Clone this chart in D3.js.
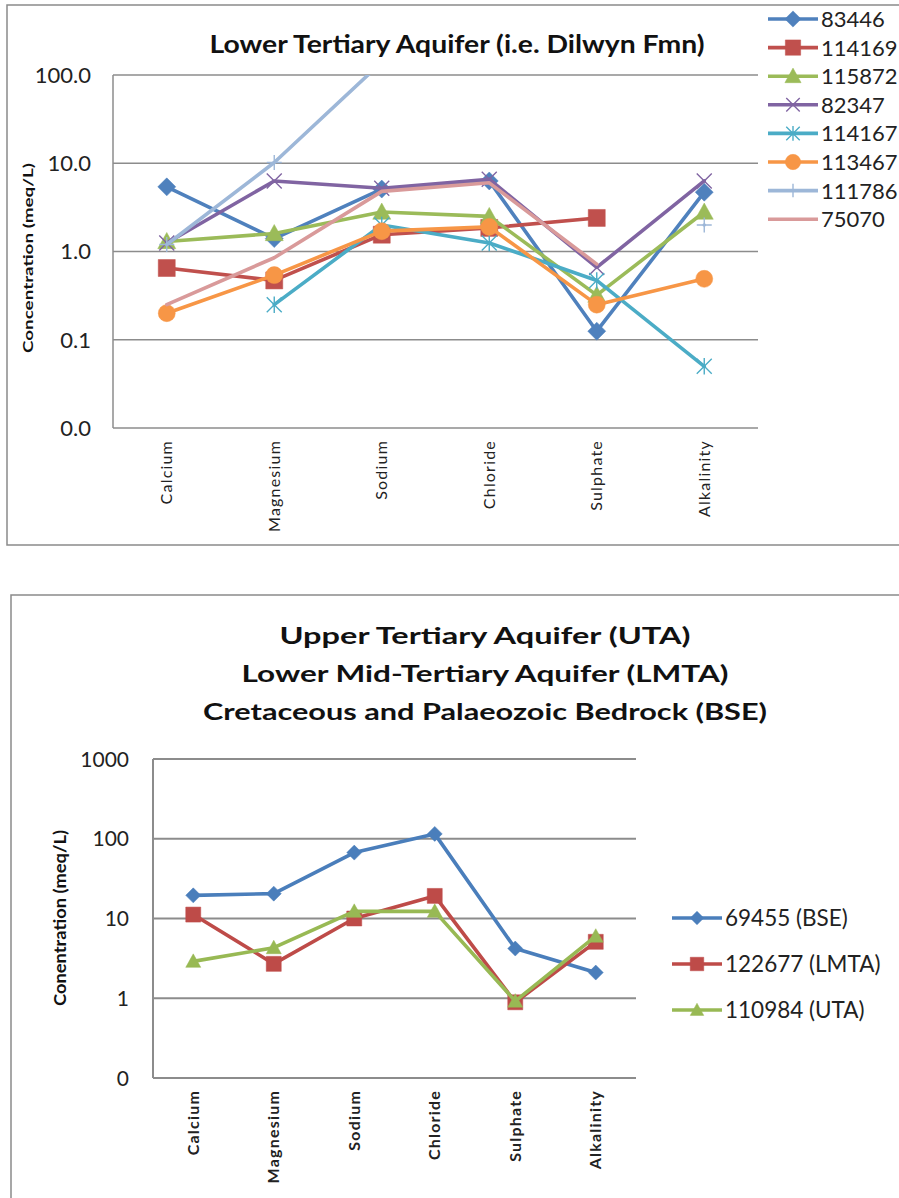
<!DOCTYPE html>
<html><head><meta charset="utf-8">
<script src="https://cdn.jsdelivr.net/npm/d3@7"></script>
<style>body{margin:0;background:#fff}svg{display:block}</style>
</head><body>
<svg id="c" width="899" height="1198"></svg>
<script>
// ---------- DATA ----------
const categories = ["Calcium","Magnesium","Sodium","Chloride","Sulphate","Alkalinity"];

// Top chart: Lower Tertiary Aquifer (i.e. Dilwyn Fmn)
const topTitle = ["Lower Tertiary Aquifer (i.e. Dilwyn Fmn)"];
const topSeriesNames = ["83446","114169","115872","82347","114167","113467","111786","75070"];
const v83446  = [5.4, 1.4, 5.1, 6.3, 0.125, 4.7];
const v114169 = [0.65, 0.47, 1.55, 1.85, 2.4, null];
const v115872 = [1.3, 1.6, 2.8, 2.5, 0.32, 2.8];
const v82347  = [1.25, 6.3, 5.2, 6.6, 0.66, 6.3];
const v114167 = [null, 0.25, 2.0, 1.25, 0.47, 0.05];
const v113467 = [0.2, 0.54, 1.7, 1.9, 0.25, 0.49];
const v111786 = [1.2, 10.2, 140, null, null, 2.0];
const v75070  = [0.25, 0.85, 4.8, 6.0, 0.72, null];
const topTickValues = [0.01, 0.1, 1, 10, 100];
const topTickLabels = ["0.0", "0.1", "1.0", "10.0", "100.0"];
const topYTitle = "Concentration (meq/L)";

// Bottom chart: UTA / LMTA / BSE
const botTitle = ["Upper Tertiary Aquifer (UTA)", "Lower Mid-Tertiary Aquifer (LMTA)", "Cretaceous and Palaeozoic Bedrock (BSE)"];
const botSeriesNames = ["69455 (BSE)", "122677 (LMTA)", "110984 (UTA)"];
const v69455  = [19.5, 20.5, 67, 115, 4.2, 2.1];
const v122677 = [11.2, 2.7, 10, 19.2, 0.89, 5.1];
const v110984 = [2.9, 4.3, 12.3, 12.3, 0.92, 6.0];
const botTickValues = [0.1, 1, 10, 100, 1000];
const botTickLabels = ["0", "1", "10", "100", "1000"];
const botYTitle = "Conentration (meq/L)";

// ---------- STYLES ----------
const topStyles = [
  {color:"#4F81BD", marker:"diamond"},
  {color:"#C0504D", marker:"square"},
  {color:"#9BBB59", marker:"triangle"},
  {color:"#8064A2", marker:"x"},
  {color:"#4BACC6", marker:"star"},
  {color:"#F79646", marker:"circle"},
  {color:"#9DB7D8", marker:"plus"},
  {color:"#D99A9A", marker:"none"}
];
const botStyles = [
  {color:"#4A7EBB", marker:"diamond"},
  {color:"#BE4B48", marker:"square"},
  {color:"#98B954", marker:"triangle"}
];

const FONT = "Lato, 'Open Sans', sans-serif";
const svg = d3.select("#c");

function markerPath(type, s){
  switch(type){
    case "diamond": return `M0,${-s}L${s},0L0,${s}L${-s},0Z`;
    case "square": return `M${-s},${-s}h${2*s}v${2*s}h${-2*s}Z`;
    case "triangle": return `M0,${-s}L${s},${s*0.8}L${-s},${s*0.8}Z`;
    case "circle": return `M${-s},0a${s},${s} 0 1,0 ${2*s},0a${s},${s} 0 1,0 ${-2*s},0Z`;
    case "x": return `M${-s},${-s}L${s},${s}M${-s},${s}L${s},${-s}`;
    case "star": return `M${-s},${-s}L${s},${s}M${-s},${s}L${s},${-s}M0,${-s*1.1}L0,${s*1.1}`;
    case "plus": return `M${-s},0L${s},0M0,${-s}L0,${s}`;
  }
  return "";
}
const filled = t => ["diamond","square","triangle","circle"].includes(t);

function drawMarker(g, type, color, x, y, s){
  if(type === "none") return;
  g.append("path").attr("d", markerPath(type, s))
    .attr("transform", `translate(${x},${y})`)
    .attr("fill", filled(type) ? color : "none")
    .attr("stroke", color)
    .attr("stroke-width", filled(type) ? 0.5 : 1.4);
}

function drawChart(cfg){
  const g = svg.append("g");
  g.append("rect").attr("x", cfg.frame[0]).attr("y", cfg.frame[1])
    .attr("width", cfg.frame[2]).attr("height", cfg.frame[3])
    .attr("fill", "#fff").attr("stroke", "#8a8a8a").attr("stroke-width", 1.5);

  const x = d3.scaleBand().domain(categories).range([cfg.left, cfg.right]);
  const y = d3.scaleLog().domain([cfg.ticks[0], cfg.ticks[cfg.ticks.length-1]]).range([cfg.bottom, cfg.top]);
  const cx = c => x(c) + x.bandwidth()/2;

  g.selectAll(".grid").data(cfg.ticks).join("line")
    .attr("x1", cfg.left).attr("x2", cfg.right)
    .attr("y1", d => y(d)).attr("y2", d => y(d))
    .attr("stroke", cfg.gridColor).attr("stroke-width", cfg.gridWidth);
  g.append("line").attr("x1", cfg.left).attr("x2", cfg.left)
    .attr("y1", cfg.top).attr("y2", cfg.bottom)
    .attr("stroke", cfg.gridColor).attr("stroke-width", cfg.gridWidth);

  g.selectAll(".tl").data(cfg.ticks).join("text")
    .attr("x", cfg.tickX).attr("y", d => y(d)).attr("dy", "0.36em")
    .attr("text-anchor", "end")
    .attr("font-family", FONT).attr("font-size", cfg.tickSize).attr("fill", "#222")
    .text((d,i) => cfg.tickLabels[i]);

  g.selectAll(".cl").data(categories).join("text")
    .attr("transform", d => `translate(${cx(d)},${cfg.catY}) rotate(-90)`)
    .attr("dy", "0.35em").attr("text-anchor", "end")
    .attr("font-family", FONT).attr("font-size", cfg.catSize)
    .attr("font-weight", cfg.catWeight).attr("letter-spacing", cfg.catSpacing).attr("fill", "#222")
    .text(d => d);

  g.append("text")
    .attr("transform", `translate(${cfg.yTitleX},${cfg.yTitleY}) rotate(-90)`)
    .attr("text-anchor", "middle").attr("dy", "0.35em")
    .attr("font-family", FONT).attr("font-size", cfg.yTitleSize).attr("font-weight", 700)
    .attr("textLength", cfg.yTitleLen).attr("lengthAdjust", "spacingAndGlyphs")
    .attr("fill", "#111").text(cfg.yTitle);

  cfg.title.forEach((t, i) => {
    g.append("text").attr("x", cfg.titleX).attr("y", cfg.titleY + i*cfg.titleStep)
      .attr("text-anchor", "middle")
      .attr("font-family", FONT).attr("font-size", cfg.titleSize).attr("font-weight", 700)
      .attr("textLength", cfg.titleLens[i]).attr("lengthAdjust", "spacingAndGlyphs")
      .attr("fill", "#111").text(t);
  });

  const clipId = "clip" + cfg.id;
  svg.append("clipPath").attr("id", clipId).append("rect")
    .attr("x", cfg.left).attr("y", cfg.top)
    .attr("width", cfg.right - cfg.left).attr("height", cfg.bottom - cfg.top);
  const plot = g.append("g").attr("clip-path", `url(#${clipId})`);

  const line = d3.line().defined(d => d.v != null)
    .x(d => cx(d.c)).y(d => y(d.v));

  cfg.series.forEach((vals, si) => {
    const st = cfg.styles[si];
    const pts = categories.map((c, i) => ({c, v: vals[i]}));
    plot.append("path").datum(pts).attr("d", line)
      .attr("fill", "none").attr("stroke", st.color)
      .attr("stroke-width", cfg.lineWidth).attr("stroke-linejoin", "round").attr("stroke-linecap", "round");
    pts.filter(p => p.v != null).forEach(p => {
      drawMarker(plot, st.marker, st.color, cx(p.c), y(p.v), cfg.markerSize[st.marker] || 7);
    });
  });

  cfg.names.forEach((n, i) => {
    const st = cfg.styles[i];
    const ly = cfg.legY + i*cfg.legStep;
    g.append("line").attr("x1", cfg.legX).attr("x2", cfg.legX + cfg.legLen)
      .attr("y1", ly).attr("y2", ly).attr("stroke", st.color).attr("stroke-width", cfg.lineWidth);
    drawMarker(g, st.marker, st.color, cfg.legX + cfg.legLen/2, ly, (cfg.markerSize[st.marker] || 7) * 0.9);
    g.append("text").attr("x", cfg.legX + cfg.legLen + 3).attr("y", ly).attr("dy", "0.36em")
      .attr("font-family", FONT).attr("font-size", cfg.legSize).attr("fill", "#222").text(n);
  });
}

drawChart({
  id: "top",
  frame: [7, 5, 905, 540],
  left: 113, right: 758, top: 75, bottom: 428,
  ticks: topTickValues, tickLabels: topTickLabels,
  tickX: 91, tickSize: 22,
  catY: 440, catSize: 16, catWeight: 400, catSpacing: 1.2,
  yTitle: topYTitle, yTitleX: 28, yTitleY: 258, yTitleSize: 14, yTitleLen: 190,
  title: topTitle, titleLens: [495], titleX: 457, titleY: 53, titleStep: 0, titleSize: 24,
  gridColor: "#8c8c8c", gridWidth: 1.5,
  series: [v83446, v114169, v115872, v82347, v114167, v113467, v111786, v75070],
  styles: topStyles, names: topSeriesNames,
  lineWidth: 3.6,
  markerSize: {diamond: 9, square: 8.5, triangle: 9, circle: 8.5, x: 7.5, star: 7.5, plus: 7.5},
  legX: 768, legLen: 50, legY: 19, legStep: 28.6, legSize: 22
});

drawChart({
  id: "bot",
  frame: [11, 595, 905, 620],
  left: 153, right: 636, top: 759, bottom: 1078,
  ticks: botTickValues, tickLabels: botTickLabels,
  tickX: 129, tickSize: 21,
  catY: 1090, catSize: 16, catWeight: 700, catSpacing: 1.2,
  yTitle: botYTitle, yTitleX: 60, yTitleY: 918, yTitleSize: 17, yTitleLen: 176,
  title: botTitle, titleLens: [411, 487, 564], titleX: 485, titleY: 644, titleStep: 38, titleSize: 23,
  gridColor: "#8c8c8c", gridWidth: 2,
  series: [v69455, v122677, v110984],
  styles: botStyles, names: botSeriesNames,
  lineWidth: 3.6,
  markerSize: {diamond: 7.5, square: 7.5, triangle: 7.5},
  legX: 672, legLen: 50, legY: 918, legStep: 46, legSize: 22.5
});
</script>
</body></html>
